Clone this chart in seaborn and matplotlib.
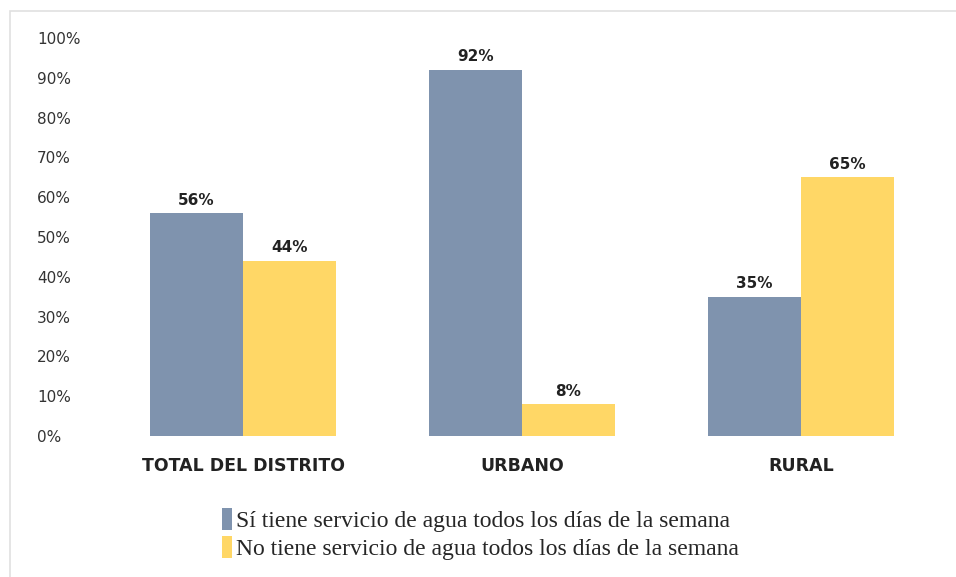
import matplotlib
matplotlib.use("Agg")
import matplotlib.pyplot as plt
import seaborn as sns
import pandas as pd
from matplotlib.patches import Rectangle, Patch

categories = ["TOTAL DEL DISTRITO", "URBANO", "RURAL"]
series_names = ["Sí tiene servicio de agua todos los días de la semana",
                "No tiene servicio de agua todos los días de la semana"]
si_values = [56, 92, 35]
no_values = [44, 8, 65]
y_ticks = [0, 10, 20, 30, 40, 50, 60, 70, 80, 90, 100]
colors = ["#7F93AE", "#FFD766"]

df = pd.DataFrame({
    "cat": categories * 2,
    "serie": [series_names[0]] * 3 + [series_names[1]] * 3,
    "val": si_values + no_values,
})

sns.set_theme(style="white")
plt.rcParams['font.family'] = ['DejaVu Sans']

fig = plt.figure(figsize=(9.56, 5.77), dpi=100)
ax = fig.add_axes([103.5 / 956, 141 / 577, 837 / 956, 398 / 577])

sns.barplot(data=df, x="cat", y="val", hue="serie", palette=colors,
            width=0.667, gap=0, ax=ax, legend=False, saturation=1,
            edgecolor="none", linewidth=0)

ax.set_xlim(-0.5, 2.5)
ax.set_ylim(0, 100)
ax.set_yticks(y_ticks)
ax.set_yticklabels([f"{t}%" for t in y_ticks], fontsize=11, color="#333333", ha="left")
ax.tick_params(axis="y", pad=48, length=0)
ax.tick_params(axis="x", length=0, pad=15)
for lab in ax.get_xticklabels():
    lab.set_fontweight("bold")
    lab.set_fontsize(12.5)
    lab.set_color("#222222")
ax.set_xlabel("")
ax.set_ylabel("")
for s in ax.spines.values():
    s.set_visible(False)

for cont in ax.containers:
    ax.bar_label(cont, labels=[f"{int(v)}%" for v in cont.datavalues],
                 fontsize=11, fontweight="bold", color="#222222", padding=4)

# outer border
fig.patches.append(Rectangle((10 / 956, -0.01), 1.2, 1 - 11 / 577 + 0.01,
                             transform=fig.transFigure, fill=False,
                             edgecolor="#E0E0E0", linewidth=1.2))

handles = [Patch(facecolor=c, edgecolor="none") for c in colors]
fig.legend(handles, series_names, loc="upper left",
           bbox_to_anchor=(210 / 956, 1 - 496 / 577), frameon=False,
           prop={"family": "Liberation Serif", "size": 17},
           handlelength=0.45, handleheight=1.1, handletextpad=0.15,
           labelspacing=0.15, borderpad=0)

fig.savefig("out.png", dpi=100)
